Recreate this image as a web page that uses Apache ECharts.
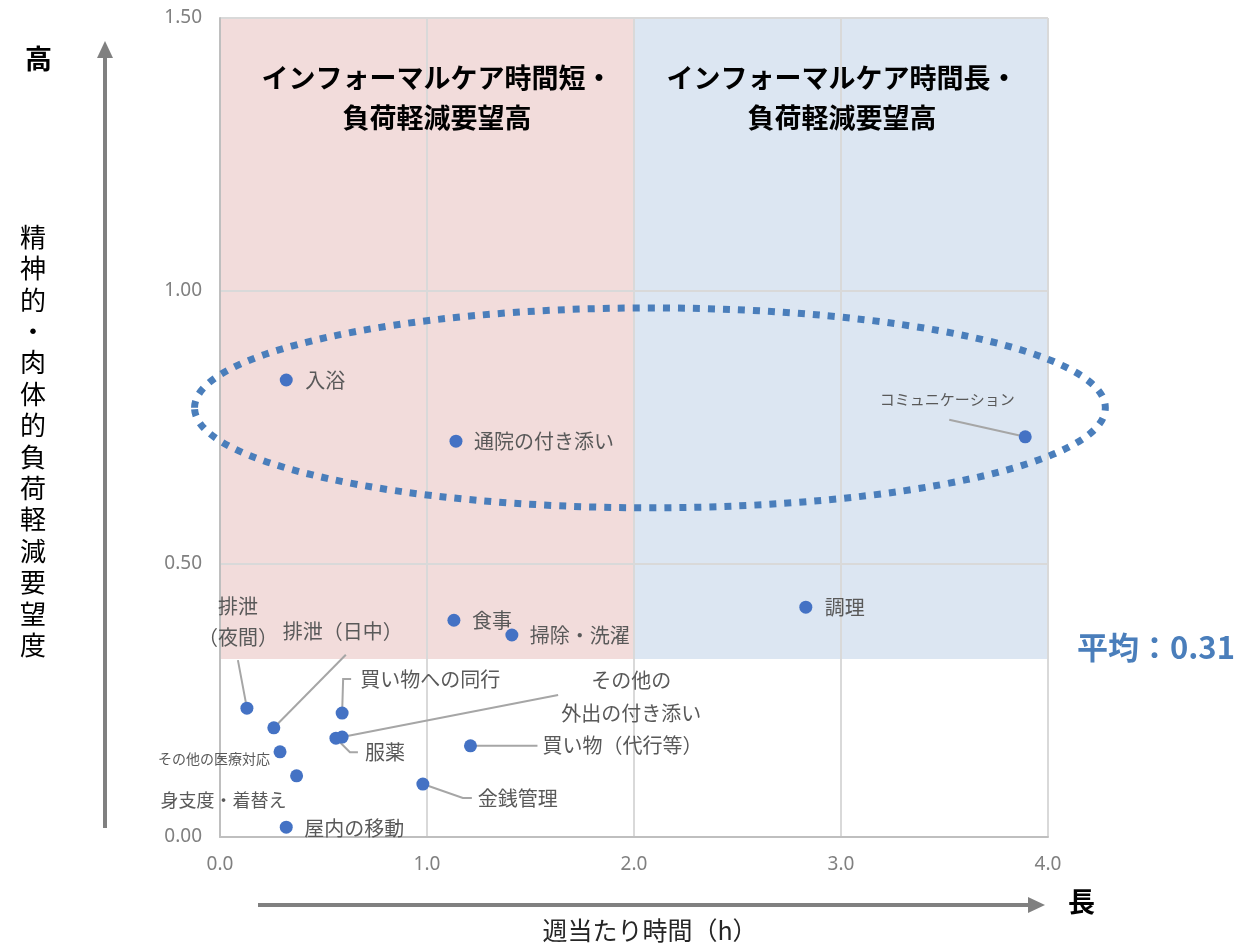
<!DOCTYPE html>
<html><head><meta charset="utf-8">
<script src="https://cdn.jsdelivr.net/npm/echarts@6/dist/echarts.min.js"></script>
<style>html,body{margin:0;padding:0;background:#fff}#c{width:1250px;height:943px}</style>
</head><body><div id="c"></div>
<script>
// ---- data ----
const names = ['入浴','通院の付き添い','コミュニケーション','調理','食事','掃除・洗濯','排泄\n（夜間）','排泄（日中）','買い物への同行','その他の\n外出の付き添い','服薬','その他の医療対応','身支度・着替え','買い物（代行等）','金銭管理','屋内の移動'];
const hours = [0.32, 1.14, 3.89, 2.83, 1.13, 1.41, 0.13, 0.26, 0.59, 0.59, 0.56, 0.29, 0.37, 1.21, 0.98, 0.32];
const loads = [0.837, 0.725, 0.733, 0.421, 0.397, 0.370, 0.236, 0.200, 0.227, 0.183, 0.181, 0.156, 0.112, 0.167, 0.097, 0.018];
const xTicks = [0, 1, 2, 3, 4];
const yTicks = [0, 0.5, 1.0, 1.5];
const average = 0.31;
const areaBottom = 0.326;
const regionX = [[0, 2], [2, 4]];
const quadrantTitles = ['インフォーマルケア時間短・\n負荷軽減要望高', 'インフォーマルケア時間長・\n負荷軽減要望高'];
const highlight = [2.077, 0.786, 2.20, 0.183]; // ellipse cx, cy, rx, ry (data units)

// ---- label layout (styles) ----
const labelCfg = {
  '入浴': {off:[19,0], align:'left'},
  '通院の付き添い': {off:[18,0], align:'left'},
  'コミュニケーション': {off:[-78,-37], align:'center', size:15, lead:[[0,0],[-76,-17]]},
  '調理': {off:[19,0], align:'left'},
  '食事': {off:[18,0], align:'left'},
  '掃除・洗濯': {off:[18,0], align:'left'},
  '排泄\n（夜間）': {off:[-9,-86], align:'center', lh:31, lead:[[0,0],[-9,-48]]},
  '排泄（日中）': {off:[69,-96], align:'center', lead:[[0,0],[72,-73]]},
  '買い物への同行': {off:[18,-34], align:'left', lead:[[0,0],[1,-34],[9,-34]]},
  'その他の\n外出の付き添い': {off:[289,-40], align:'center', lh:33, lead:[[0,0],[216,-42]]},
  '服薬': {off:[29,14], align:'left', lead:[[0,0],[14,14],[22,14]]},
  'その他の医療対応': {off:[-10,7], align:'right', size:14},
  '身支度・着替え': {off:[-10,24], align:'right', size:18},
  '買い物（代行等）': {off:[72,0], align:'left', lead:[[0,0],[67,0]]},
  '金銭管理': {off:[55,14], align:'left', lead:[[0,0],[40,14],[49,14]]},
  '屋内の移動': {off:[18,1], align:'left'}
};
const JP = '"Noto Sans CJK JP", "Noto Sans", sans-serif';

const scatterData = names.map((n, i) => {
  const c = labelCfg[n];
  return {
    name: n, value: [hours[i], loads[i]],
    label: {show: true, position: 'inside', offset: c.off, align: c.align, verticalAlign: 'middle',
      fontSize: c.size || 20, lineHeight: c.lh || 24, color: '#595959', fontFamily: JP,
      formatter: n}
  };
});
const leadData = [];
names.forEach((n, i) => { if (labelCfg[n].lead) leadData.push([hours[i], loads[i], i]); });

const chart = echarts.init(document.getElementById('c'), null, {renderer: 'canvas'});
chart.setOption({
  animation: false,
  grid: {left: 220, right: 202, top: 18, bottom: 106},
  xAxis: {type: 'value', min: xTicks[0], max: xTicks[xTicks.length-1], interval: 1, z: 3,
    axisLine: {show: true, lineStyle: {color: '#bfbfbf', width: 2}}, axisTick: {show: false},
    splitLine: {show: true, lineStyle: {color: '#d9d9d9', width: 2}},
    axisLabel: {margin: 18, color: '#808080', fontSize: 19, fontFamily: '"Noto Sans", sans-serif', formatter: v => v.toFixed(1)}},
  yAxis: {type: 'value', min: yTicks[0], max: yTicks[yTicks.length-1], interval: 0.5, z: 3,
    axisLine: {show: true, lineStyle: {color: '#bfbfbf', width: 2}}, axisTick: {show: false},
    splitLine: {show: true, lineStyle: {color: '#d9d9d9', width: 2}},
    axisLabel: {margin: 18, color: '#808080', fontSize: 19, fontFamily: '"Noto Sans", sans-serif', formatter: v => v.toFixed(2)}},
  series: [
    {type: 'custom', z: 1, silent: true, encode: {x: [0, 1], y: [2, 3]},
      data: regionX.map(r => [r[0], r[1], areaBottom, yTicks[yTicks.length-1]]),
      renderItem: (params, api) => {
        const p1 = api.coord([api.value(0), api.value(3)]);
        const p2 = api.coord([api.value(1), api.value(2)]);
        return {type: 'rect', shape: {x: p1[0], y: p1[1], width: p2[0]-p1[0], height: p2[1]-p1[1]},
          style: {fill: params.dataIndex === 0 ? '#f2dcdb' : '#dce6f2'}};
      }},
    {type: 'custom', z: 4, silent: true, encode: {x: 0, y: 1},
      data: leadData,
      renderItem: (params, api) => {
        const c = api.coord([api.value(0), api.value(1)]);
        const pts = labelCfg[names[api.value(2)]].lead.map(p => [c[0]+p[0], c[1]+p[1]]);
        return {type: 'polyline', shape: {points: pts}, style: {stroke: '#a6a6a6', lineWidth: 2, fill: 'none'}};
      }},
    {type: 'scatter', z: 5, symbolSize: 13, itemStyle: {color: '#4472c4', opacity: 1},
      data: scatterData},
    {type: 'custom', z: 6, silent: true, clip: false, encode: {x: 0, y: 1},
      data: [highlight],
      renderItem: (params, api) => {
        const c = api.coord([api.value(0), api.value(1)]);
        const s = api.size([api.value(2), api.value(3)]);
        return {type: 'ellipse', shape: {cx: c[0], cy: c[1], rx: s[0], ry: s[1]},
          style: {fill: 'none', stroke: '#4a7ebb', lineWidth: 7, lineDash: [7, 8], lineCap: 'butt'}};
      }}
  ],
  graphic: [
    {type: 'line', shape: {x1: 105, y1: 828, x2: 105, y2: 56}, style: {stroke: '#808080', lineWidth: 4}},
    {type: 'polygon', shape: {points: [[105, 41], [97, 58], [113, 58]]}, style: {fill: '#808080'}},
    {type: 'line', shape: {x1: 258, y1: 905, x2: 1030, y2: 905}, style: {stroke: '#808080', lineWidth: 4}},
    {type: 'polygon', shape: {points: [[1045, 905], [1028, 897], [1028, 913]]}, style: {fill: '#808080'}},
    {type: 'text', left: 25, top: 45, style: {text: '高', font: 'bold 27px ' + JP, fill: '#000'}},
    {type: 'text', left: 1068, top: 888, style: {text: '長', font: 'bold 27px ' + JP, fill: '#000'}},
    {type: 'text', left: 1077, top: 632, style: {text: '平均：' + average.toFixed(2), font: 'bold 31px ' + JP, fill: '#4a7ebb'}},
    {type: 'text', x: 33, y: 441, style: {text: '精神的・肉体的負荷軽減要望度'.split('').join('\n'), font: '26px ' + JP, lineHeight: 31.4, fill: '#000', align: 'center', verticalAlign: 'middle'}},
    {type: 'text', x: 650, y: 930, style: {text: '週当たり時間（h）', font: '25px ' + JP, fill: '#262626', align: 'center', verticalAlign: 'middle'}},
    {type: 'text', x: 437, y: 98, z: 10, style: {text: quadrantTitles[0], font: 'bold 27px ' + JP, lineHeight: 40, fill: '#000', align: 'center', verticalAlign: 'middle'}},
    {type: 'text', x: 842, y: 98, z: 10, style: {text: quadrantTitles[1], font: 'bold 27px ' + JP, lineHeight: 40, fill: '#000', align: 'center', verticalAlign: 'middle'}}
  ]
});
</script>
</body></html>
